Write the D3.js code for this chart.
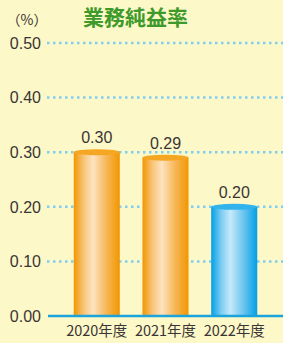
<!DOCTYPE html>
<html>
<head>
<meta charset="utf-8">
<script src="https://cdn.jsdelivr.net/npm/d3@7"></script>
<style>
  body { margin: 0; background: #fdf8c8; }
  svg { display: block; font-family: "Noto Sans CJK JP", "Noto Sans", sans-serif; }
</style>
</head>
<body>
<div id="chart"></div>
<script>
const categories = ["2020年度", "2021年度", "2022年度"];
const values = [0.30, 0.29, 0.20];
const valueLabels = ["0.30", "0.29", "0.20"];
const barKinds = ["orange", "orange", "blue"];
const yTicks = [0, 0.1, 0.2, 0.3, 0.4, 0.5];

const width = 283, height = 343;
const svg = d3.select("#chart").append("svg")
  .attr("width", width).attr("height", height);

svg.append("rect").attr("width", width).attr("height", height).attr("fill", "#fdf8c8");

const y = d3.scaleLinear().domain([0, 0.5]).range([316, 43]);
const x = d3.scaleBand().domain(categories).range([60, 271]).paddingInner(0.33).paddingOuter(0.2);

// gradients
const defs = svg.append("defs");
const palettes = {
  orange: ["#f29600", "#f8c57a", "#fde3c0", "#f7b859", "#f29600"],
  blue: ["#00a0e6", "#7fcdf3", "#c4e9fb", "#6cc5f0", "#00a0e6"]
};
Object.entries(palettes).forEach(([k, cols]) => {
  const g = defs.append("linearGradient").attr("id", "g-" + k)
    .attr("x1", "0%").attr("x2", "100%").attr("y1", "0%").attr("y2", "0%");
  [0, 0.22, 0.42, 0.7, 1].forEach((o, i) =>
    g.append("stop").attr("offset", o).attr("stop-color", cols[i]));
});
const topColor = { orange: "#f5a623", blue: "#33b3ec" };

// gridlines
svg.append("g").selectAll("line")
  .data(yTicks.filter(d => d > 0))
  .join("line")
  .attr("x1", 47).attr("x2", width)
  .attr("y1", d => y(d)).attr("y2", d => y(d))
  .attr("stroke", "#7fcdf0").attr("stroke-width", 2.5)
  .attr("stroke-dasharray", "2.5 3.5").attr("stroke-linecap", "butt");

// y axis labels
svg.append("g").selectAll("text")
  .data(yTicks)
  .join("text")
  .attr("x", 41).attr("y", d => y(d))
  .attr("dy", "0.36em")
  .attr("text-anchor", "end")
  .attr("font-size", 16)
  .attr("fill", "#3a3535")
  .style("font-family", "'Liberation Sans', Arial, sans-serif")
  .text(d => d3.format(".2f")(d));

// bars
const ry = 3;
const bars = svg.append("g").selectAll("g")
  .data(categories.map((c, i) => ({ c, v: values[i], label: valueLabels[i], kind: barKinds[i] })))
  .join("g");

bars.append("rect")
  .attr("x", d => x(d.c))
  .attr("width", x.bandwidth())
  .attr("y", d => y(d.v))
  .attr("height", d => y(0) - y(d.v))
  .attr("fill", d => `url(#g-${d.kind})`);

bars.append("ellipse")
  .attr("cx", d => x(d.c) + x.bandwidth() / 2)
  .attr("cy", d => y(d.v))
  .attr("rx", x.bandwidth() / 2)
  .attr("ry", ry)
  .attr("fill", d => topColor[d.kind]);

bars.append("text")
  .attr("x", d => x(d.c) + x.bandwidth() / 2)
  .attr("y", d => y(d.v) - 9)
  .attr("text-anchor", "middle")
  .attr("font-size", 16)
  .attr("fill", "#3a3535")
  .style("font-family", "'Liberation Sans', Arial, sans-serif")
  .text(d => d.label);

// baseline
svg.append("line")
  .attr("x1", 48).attr("x2", width)
  .attr("y1", y(0)).attr("y2", y(0))
  .attr("stroke", "#1aa3dc").attr("stroke-width", 2.5);

// category labels
svg.append("g").selectAll("text")
  .data(categories)
  .join("text")
  .attr("x", d => x(d) + x.bandwidth() / 2)
  .attr("y", 336)
  .attr("text-anchor", "middle")
  .attr("font-size", 14.5)
  .attr("fill", "#3a3535")
  .text(d => d);

// title and unit
svg.append("text")
  .attr("x", 135.5).attr("y", 25)
  .attr("text-anchor", "middle")
  .attr("font-size", 21).attr("font-weight", "bold")
  .attr("fill", "#3e9a2a")
  .text("業務純益率");

svg.append("text")
  .attr("x", 27).attr("y", 25)
  .attr("text-anchor", "middle")
  .attr("font-size", 14)
  .attr("fill", "#3a3535")
  .text("（%）");
</script>
</body>
</html>
